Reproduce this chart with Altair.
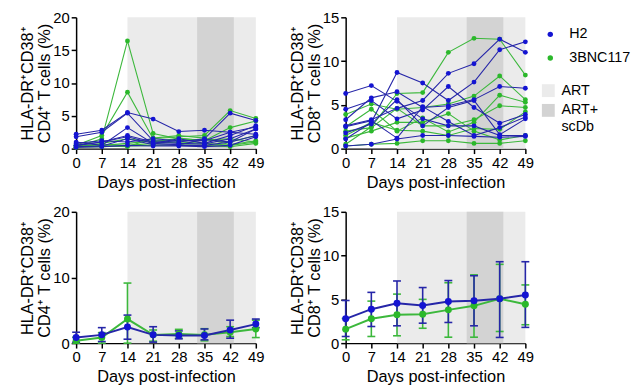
import altair as alt
import pandas as pd

# ---------------- data ----------------
days = [0, 7, 14, 21, 28, 35, 42, 49]
groups = ["H2", "3BNC117"]
phases = ["ART", "ART+scDb"]
phase_start = [14, 33]
phase_end = [49, 43]

# individual animals, CD4+ HLA-DR+CD38+ (%)
cd4_h2 = [
    [2.2, 2.8, 5.5, 4.5, 2.6, 2.8, 2.5, 3.3],
    [1.8, 2.5, 5.4, 1.2, 1.0, 1.5, 5.4, 4.3],
    [1.0, 0.5, 3.2, 0.8, 1.5, 0.8, 2.0, 3.5],
    [0.5, 1.0, 2.0, 1.0, 0.8, 0.7, 1.5, 3.0],
    [0.3, 0.4, 1.5, 0.6, 0.5, 0.5, 1.0, 2.0],
    [0.8, 1.2, 1.0, 1.5, 1.2, 1.2, 2.5, 2.2],
    [0.2, 0.3, 0.5, 0.4, 0.4, 0.3, 0.5, 1.8],
    [0.5, 1.0, 1.8, 0.8, 0.6, 1.4, 1.0, 3.0],
]
cd4_3bnc = [
    [0.3, 1.5, 16.4, 2.3, 1.5, 1.3, 1.5, 1.0],
    [0.5, 2.0, 8.6, 1.5, 1.8, 2.0, 5.8, 4.6],
    [0.2, 0.8, 1.5, 1.0, 1.6, 1.2, 3.2, 4.2],
    [0.6, 0.5, 0.8, 1.2, 1.2, 1.4, 1.0, 2.0],
    [0.4, 0.6, 0.5, 0.8, 1.0, 0.8, 0.5, 1.0],
    [0.2, 0.3, 0.4, 0.5, 0.6, 0.5, 0.3, 0.8],
    [0.3, 0.4, 0.3, 1.6, 2.0, 1.6, 0.6, 1.2],
]
# individual animals, CD8+ HLA-DR+CD38+ (%)
cd8_h2 = [
    [1.1, 3.0, 8.7, 7.5, 5.5, 7.6, 11.3, 12.2],
    [2.6, 3.3, 4.6, 5.5, 8.6, 9.7, 12.5, 11.0],
    [6.3, 7.2, 5.4, 3.4, 2.6, 2.6, 1.5, 1.5],
    [4.5, 5.5, 3.4, 4.4, 7.1, 4.7, 2.9, 3.9],
    [3.3, 5.8, 6.5, 4.7, 4.9, 5.6, 7.1, 6.9],
    [1.8, 2.8, 5.6, 2.6, 4.7, 5.5, 1.6, 3.4],
    [0.3, 0.5, 1.1, 1.5, 1.5, 1.4, 1.3, 1.4],
    [2.5, 3.2, 1.2, 4.8, 3.1, 1.5, 2.4, 3.6],
]
cd8_3bnc = [
    [0.5, 2.5, 6.3, 6.4, 11.0, 12.6, 12.5, 8.4],
    [3.9, 5.1, 4.5, 4.7, 5.1, 6.0, 8.3, 5.6],
    [2.5, 4.5, 2.0, 3.5, 1.9, 3.0, 6.1, 5.3],
    [2.0, 2.4, 4.6, 2.6, 2.6, 3.3, 4.9, 4.7],
    [1.5, 3.0, 2.1, 2.0, 1.5, 2.3, 2.2, 4.2],
    [0.3, 0.5, 0.6, 0.9, 0.9, 0.6, 0.6, 0.9],
    [1.2, 2.0, 3.0, 3.0, 4.0, 2.0, 1.0, 1.5],
]

# group mean with lower / upper error bar ends
cd4_mean_h2 = [0.85, 1.26, 2.46, 1.26, 1.16, 1.16, 2.0, 2.9]
cd4_lo_h2 = [0.15, 0.25, 0.6, 0.15, 0.65, 0.5, 0.75, 2.36]
cd4_hi_h2 = [1.66, 2.36, 4.27, 2.5, 1.86, 2.16, 3.5, 3.67]
cd4_mean_3bnc = [0.35, 0.85, 3.67, 1.26, 1.4, 1.26, 1.66, 2.16]
cd4_lo_3bnc = [0.0, 0.0, 0.0, 0.3, 0.75, 0.35, 1.0, 0.85]
cd4_hi_3bnc = [0.9, 1.6, 9.15, 2.0, 2.1, 2.2, 2.5, 3.5]

cd8_mean_h2 = [2.78, 3.88, 4.56, 4.3, 4.75, 4.83, 5.06, 5.5]
cd8_lo_h2 = [0.76, 1.9, 1.98, 2.28, 2.36, 1.98, 0.65, 1.8]
cd8_hi_h2 = [4.87, 5.8, 7.1, 6.35, 7.15, 7.7, 9.3, 9.3]
cd8_mean_3bnc = [1.6, 2.78, 3.23, 3.3, 3.8, 4.26, 5.06, 4.45]
cd8_lo_3bnc = [0.38, 0.76, 0.84, 1.7, 0.68, 0.68, 1.33, 2.1]
cd8_hi_3bnc = [2.82, 4.8, 5.6, 5.0, 6.9, 7.8, 9.0, 6.65]

cd4_title = ["HLA-DR\u207aCD38\u207a", "CD4\u207a T cells (%)"]
cd8_title = ["HLA-DR\u207aCD38\u207a", "CD8\u207a T cells (%)"]

# ---------------- style ----------------
FONT = "Liberation Sans"
W, H = 182, 133
POINT_COL = {"H2": "#1414d2", "3BNC117": "#2bb82b"}
LINE_COL = {"H2": "#2626a8", "3BNC117": "#3cb83c"}
SHADE = ["#ebebeb", "#d3d3d3"]
line_keys = [g + " line" for g in groups]

color_scale = alt.Scale(domain=groups, range=[POINT_COL[g] for g in groups])
stroke_scale = alt.Scale(domain=line_keys, range=[LINE_COL[g] for g in groups])
fill_scale = alt.Scale(domain=phases, range=SHADE)

shade_df = pd.DataFrame({"phase": phases, "start": phase_start, "end": phase_end})

color_legend = alt.Legend(title=None, symbolSize=30, orient="none", legendX=473, legendY=10,
                          padding=0, rowPadding=9, labelOffset=12)
fill_legend = alt.Legend(title=None, symbolType="square", symbolSize=170, symbolStrokeWidth=0,
                         orient="none", legendX=471, legendY=67, padding=0, rowPadding=5,
                         labelOffset=6,
                         labelExpr="datum.label == 'ART+scDb' ? ['ART+', 'scDb'] : datum.label")


def individual_df(h2, bn):
    rows = []
    for gname, arr in (("3BNC117", bn), ("H2", h2)):
        for i, series in enumerate(arr):
            for d, v in zip(days, series):
                rows.append({"day": d, "value": v, "group": gname, "line_group": gname + " line",
                             "animal": f"{gname}_{i}"})
    return pd.DataFrame(rows)


def summary_df(m, lo, hi, gname):
    return pd.DataFrame({"day": days, "mean": m, "lo": lo, "hi": hi, "group": gname,
                         "line_group": gname + " line"})


XSCALE = alt.Scale(domain=[0, 49], nice=False)
XAXIS = alt.Axis(values=days, title="Days post-infection", labelFlush=False,
                 titleFontWeight="normal")


def x_enc():
    return alt.X("day:Q", scale=XSCALE, axis=XAXIS)


def y_axis(ymax, title):
    return alt.Axis(values=list(range(0, ymax + 1, 5)), title=title, titlePadding=0,
                    titleFontWeight="normal")


def shade_layer():
    return alt.Chart(shade_df).mark_rect(opacity=1).encode(
        x=alt.X("start:Q", scale=XSCALE, axis=XAXIS),
        x2="end:Q",
        y=alt.value(0),
        y2=alt.value(H),
        fill=alt.Fill("phase:N", scale=fill_scale, legend=fill_legend),
    )


def top_panel(h2, bn, ymax, title):
    df = individual_df(h2, bn)
    yenc = alt.Y("value:Q", scale=alt.Scale(domain=[0, ymax], nice=False), axis=y_axis(ymax, title))
    base = alt.Chart(df)
    lines = base.mark_line(strokeWidth=1.1).encode(
        x=x_enc(), y=yenc, detail="animal:N",
        stroke=alt.Stroke("line_group:N", scale=stroke_scale, legend=None),
    )
    pts = base.mark_circle(size=24, opacity=1).encode(
        x=x_enc(), y=yenc,
        color=alt.Color("group:N", scale=color_scale, sort=groups, legend=color_legend),
    )
    return alt.layer(shade_layer(), lines, pts).properties(width=W, height=H)


def bottom_panel(h2_stats, bn_stats, ymax, title):
    ysc = alt.Scale(domain=[0, ymax], nice=False)
    layers = [shade_layer()]
    means = []
    for gname, st in (("3BNC117", bn_stats), ("H2", h2_stats)):
        sdf = summary_df(*st, gname)
        base = alt.Chart(sdf)
        col = LINE_COL[gname]
        layers.append(base.mark_rule(strokeWidth=1.6, color=col).encode(
            x=x_enc(), y=alt.Y("lo:Q", scale=ysc, axis=y_axis(ymax, title)), y2="hi:Q"))
        layers.append(base.mark_tick(orient="horizontal", size=8, thickness=1.6, color=col,
                                     opacity=1).encode(x=x_enc(), y=alt.Y("hi:Q", scale=ysc)))
        layers.append(base.mark_tick(orient="horizontal", size=8, thickness=1.6, color=col,
                                     opacity=1).encode(x=x_enc(), y=alt.Y("lo:Q", scale=ysc)))
        means.append(sdf)
    mdf = pd.concat(means)
    mbase = alt.Chart(mdf)
    layers.append(mbase.mark_line(strokeWidth=2).encode(
        x=x_enc(), y=alt.Y("mean:Q", scale=ysc), detail="group:N",
        stroke=alt.Stroke("line_group:N", scale=stroke_scale, legend=None)))
    layers.append(mbase.mark_circle(size=50, opacity=1).encode(
        x=x_enc(), y=alt.Y("mean:Q", scale=ysc),
        color=alt.Color("group:N", scale=color_scale, sort=groups, legend=color_legend)))
    return alt.layer(*layers).properties(width=W, height=H)


p1 = top_panel(cd4_h2, cd4_3bnc, 20, cd4_title)
p2 = top_panel(cd8_h2, cd8_3bnc, 15, cd8_title)
p3 = bottom_panel((cd4_mean_h2, cd4_lo_h2, cd4_hi_h2), (cd4_mean_3bnc, cd4_lo_3bnc, cd4_hi_3bnc), 20, cd4_title)
p4 = bottom_panel((cd8_mean_h2, cd8_lo_h2, cd8_hi_h2), (cd8_mean_3bnc, cd8_lo_3bnc, cd8_hi_3bnc), 15, cd8_title)

chart = alt.concat(p1, p2, p3, p4, columns=2, spacing={"row": 64, "column": 91}, bounds="flush").resolve_scale(
    y="independent"
).properties(
    padding={"left": 12, "top": 0, "right": 0, "bottom": 0}
).configure(font=FONT).configure_view(stroke=None).configure_axis(
    grid=False,
    domainColor="black", domainWidth=1.5,
    tickColor="black", tickWidth=1.5, tickSize=5,
    labelFont=FONT, labelFontSize=15, labelColor="black", labelPadding=2,
    titleFont=FONT, titleFontSize=16.5, titleFontWeight="normal", titleColor="black",
    titleLineHeight=17, titlePadding=4,
).configure_legend(
    labelFont=FONT, labelFontSize=14.5, labelColor="black",
)

chart.save("out.html", embed_options={"renderer": "svg", "actions": False})
